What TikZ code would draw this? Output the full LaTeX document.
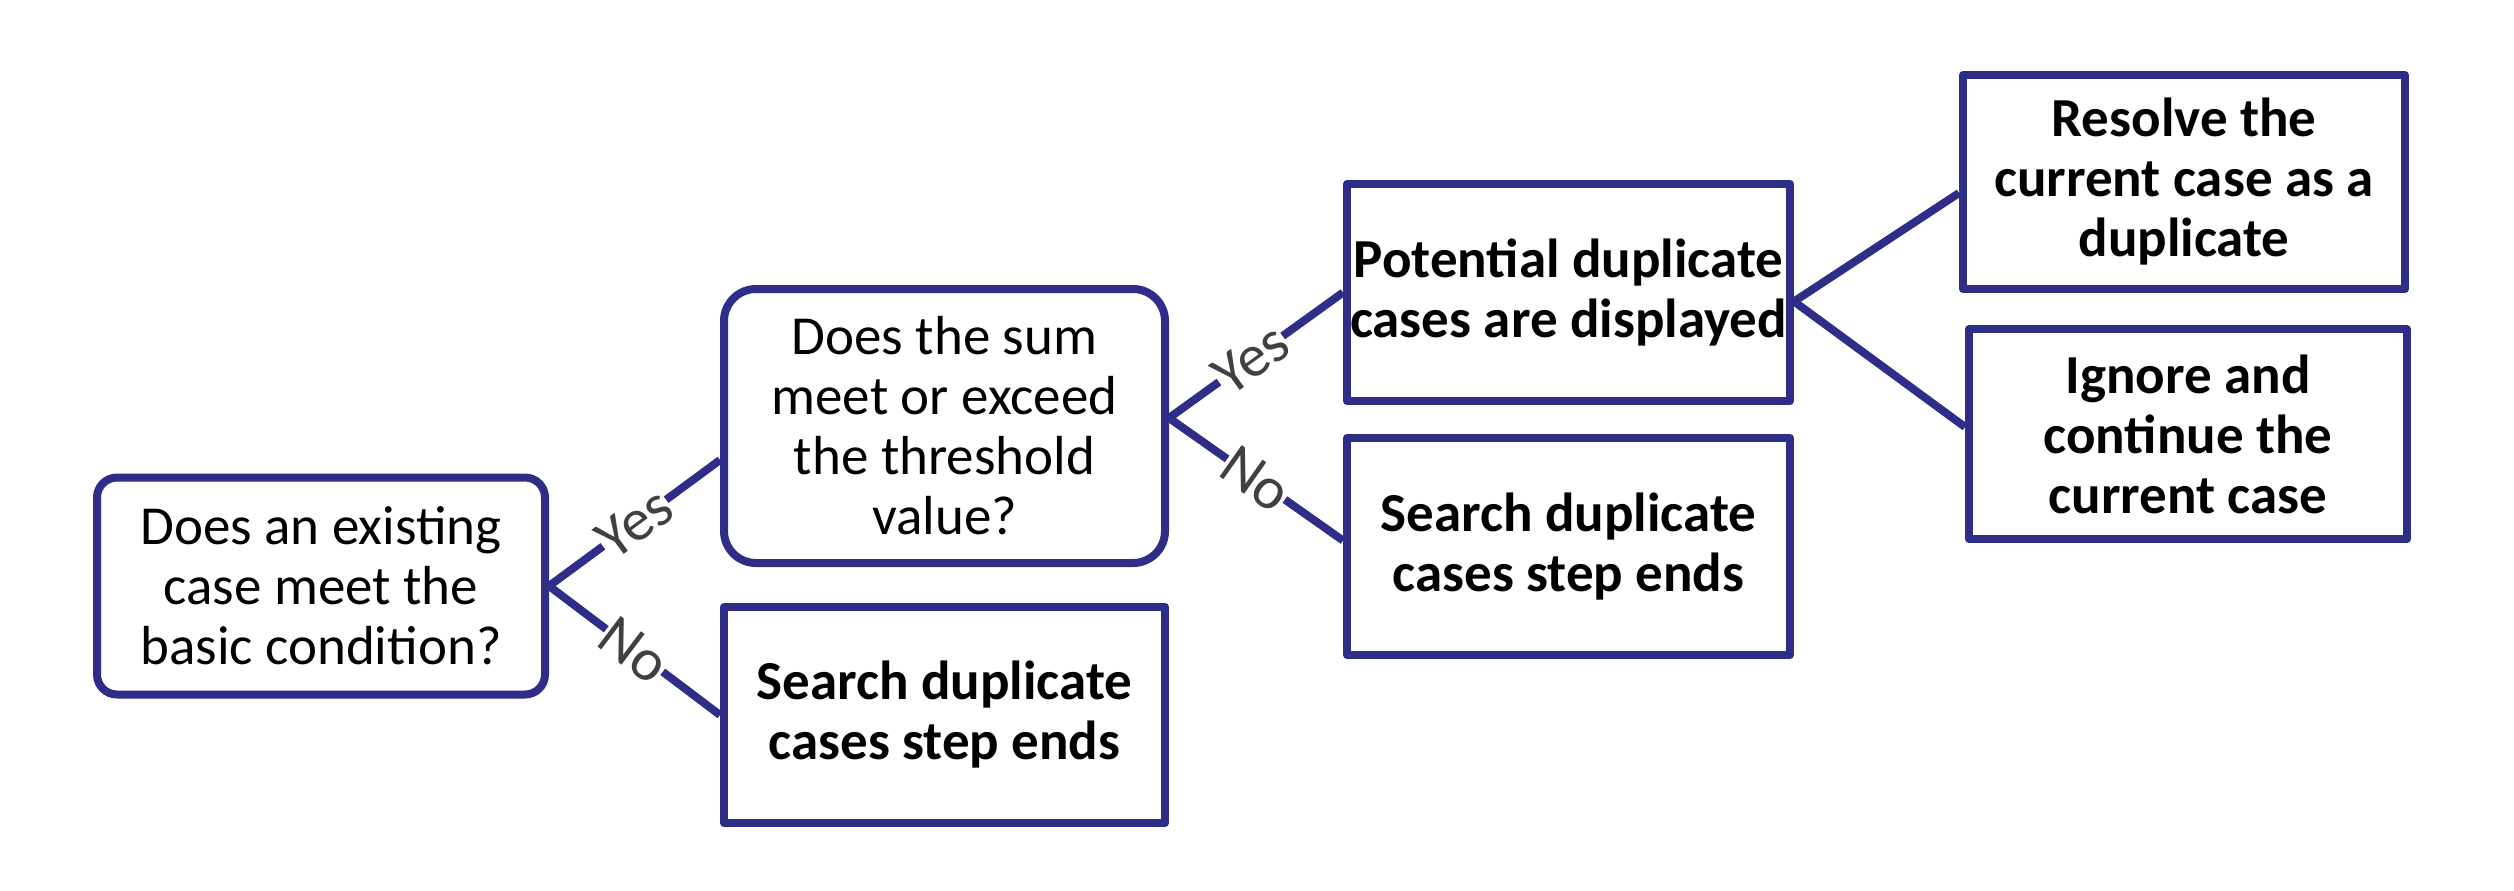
\documentclass[tikz,border=0pt]{standalone}
\usepackage{fontspec}
\setmainfont{Carlito}
\usetikzlibrary{calc}
\definecolor{bord}{RGB}{46,45,136}
\definecolor{lbl}{RGB}{64,64,64}
\begin{document}
\begin{tikzpicture}[x=0.25pt,y=-0.25pt,
  box/.style={draw=bord, line width=2pt, line join=round, fill=white, align=center,
    font=\fontsize{13.75}{15}\selectfont, inner xsep=0pt, inner ysep=1pt},
  sbox/.style={box, rounded corners=5pt},
  bbox/.style={box, font=\fontsize{13.75}{15}\selectfont\bfseries},
  conn/.style={draw=bord, line width=2pt},
  lab/.style={sloped, fill=white, text=lbl, font=\fontsize{15}{15}\selectfont, inner sep=0pt, midway}]
\useasboundingbox (0,0) rectangle (2514,890);
\node[sbox, minimum width=112pt, minimum height=54.25pt] (A) at (321,586) {Does an existing\\case meet the\\basic condition?};
\node[sbox, rounded corners=8pt, minimum width=110.25pt, minimum height=68.5pt] (B) at (944.5,426) {Does the sum\\meet or exceed\\the threshold\\value?};
\node[bbox, minimum width=110.25pt, minimum height=54pt] (C) at (944.5,715) {Search duplicate\\cases step ends};
\node[bbox, minimum width=110.75pt, minimum height=54.25pt] (D) at (1568.5,292.5) {Potential duplicate\\cases are displayed};
\node[bbox, minimum width=110.75pt, minimum height=54.25pt] (E) at (1568.5,546.5) {Search duplicate\\cases step ends};
\node[bbox, minimum width=110.5pt, minimum height=53.5pt] (F) at (2184,182) {Resolve the\\current case as a\\duplicate};
\node[bbox, minimum width=109.5pt, minimum height=52.5pt] (G) at (2188,434) {Ignore and\\continue the\\current case};
\coordinate (Bj) at ($(B.east)+(0,-8)$);
\coordinate (Dj) at ($(D.east)+(0,9)$);
\draw[conn] (A.east) -- node[lab]{Yes} ($(B.west)+(0,34)$);
\draw[conn] (A.east) -- node[lab]{No} (C.west);
\draw[conn] (Bj) -- node[lab, pos=0.47]{Yes} (D.west);
\draw[conn] (Bj) -- node[lab]{No} ($(E.west)+(0,-6)$);
\draw[conn] (Dj) -- ($(F.west)+(0,11)$);
\draw[conn] (Dj) -- ($(G.west)+(0,-7)$);
\end{tikzpicture}
\end{document}
